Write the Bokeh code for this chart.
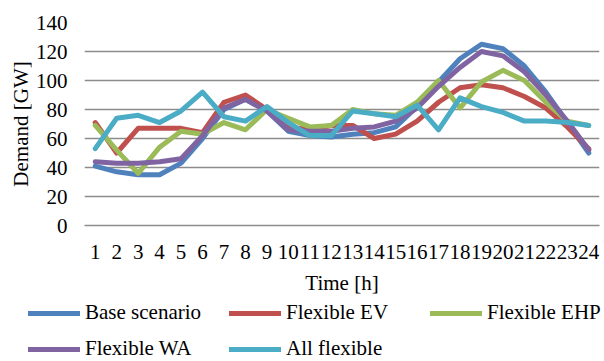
from bokeh.plotting import figure
from bokeh.models import Range1d, FactorRange, FixedTicker, Legend, LegendItem
from bokeh.layouts import column
from bokeh.embed import file_html
from bokeh.resources import INLINE

# Hourly demand (GW) for each flexibility scenario
hours = [str(h) for h in range(1, 25)]
base_scenario = [41, 37, 35, 35, 43, 60, 80, 87, 79, 65, 62, 61,
                 63, 64, 68, 82, 99, 115, 125, 122, 110, 92, 71, 50]
flexible_ev = [71, 50, 67, 67, 67, 64, 85, 90, 80, 68, 66, 69,
               69, 60, 63, 72, 85, 95, 97, 95, 89, 81, 68, 53]
flexible_ehp = [69, 52, 36, 54, 65, 63, 71, 66, 80, 74, 68, 69,
                80, 77, 76, 85, 100, 81, 99, 107, 100, 85, 72, 69]
flexible_wa = [44, 43, 43, 44, 46, 62, 81, 87, 79, 66, 65, 65,
               67, 68, 72, 81, 96, 109, 120, 117, 106, 90, 72, 52]
all_flexible = [53, 74, 76, 71, 79, 92, 75, 72, 82, 71, 62, 62,
                79, 77, 75, 83, 66, 88, 82, 78, 72, 72, 71, 69]

series_names = ["Base scenario", "Flexible EV", "Flexible EHP",
                "Flexible WA", "All flexible"]
series_values = [base_scenario, flexible_ev, flexible_ehp,
                 flexible_wa, all_flexible]
series_colors = ["#4F81BD", "#C0504D", "#9BBB59", "#8064A2", "#4BACC6"]
y_ticks = [0, 20, 40, 60, 80, 100, 120, 140]

FONT = "Liberation Serif"
FSIZE = "21px"
GRID = "#8c8c8c"
LINE_W = 5

# ---- main chart ----
p = figure(width=604, height=297,
           x_range=FactorRange(factors=hours, range_padding=0),
           y_range=Range1d(0, 140),
           output_backend="svg", toolbar_location=None,
           min_border_left=84, min_border_right=5,
           min_border_top=22, min_border_bottom=71)
p.outline_line_color = None

for vals, col in zip(series_values, series_colors):
    p.line(hours, vals, line_color=col, line_width=LINE_W,
           line_join="round", line_cap="round")

# y axis
p.yaxis.ticker = FixedTicker(ticks=y_ticks)
p.yaxis.axis_line_color = None
p.yaxis.major_tick_line_color = None
p.yaxis.minor_tick_line_color = None
p.yaxis.major_tick_out = 0
p.yaxis.major_tick_in = 0
p.yaxis.major_label_standoff = 17
p.yaxis.major_label_text_font = FONT
p.yaxis.major_label_text_font_size = FSIZE
p.yaxis.major_label_text_color = "black"
p.yaxis.axis_label = "Demand [GW]"
p.yaxis.axis_label_text_font = FONT
p.yaxis.axis_label_text_font_size = FSIZE
p.yaxis.axis_label_text_font_style = "normal"
p.yaxis.axis_label_text_color = "black"
p.yaxis.axis_label_standoff = 0

# x axis
p.xaxis.axis_line_color = GRID
p.xaxis.axis_line_width = 1.5
p.xaxis.major_tick_line_color = None
p.xaxis.major_tick_out = 0
p.xaxis.major_tick_in = 0
p.xaxis.major_label_standoff = 19
p.xaxis.major_label_text_font = FONT
p.xaxis.major_label_text_font_size = FSIZE
p.xaxis.major_label_text_color = "black"
p.xaxis.axis_label = "Time [h]"
p.xaxis.axis_label_text_font = FONT
p.xaxis.axis_label_text_font_size = FSIZE
p.xaxis.axis_label_text_font_style = "normal"
p.xaxis.axis_label_text_color = "black"
p.xaxis.axis_label_standoff = 9

p.xgrid.grid_line_color = None
p.ygrid.grid_line_color = GRID
p.ygrid.grid_line_width = 1.5

# ---- legend strip (full width, below the chart) ----
lg = figure(width=604, height=64, output_backend="svg",
            toolbar_location=None, min_border=0,
            x_range=Range1d(0, 1), y_range=Range1d(0, 1))
lg.outline_line_color = None
lg.axis.visible = False
lg.grid.visible = False

# keep the strip's frame independent of the chart's frame
if "frame_align" in lg.properties():
    lg.frame_align = False
    p.frame_align = False

items = []
for name, col in zip(series_names, series_colors):
    # legend-only renderer, kept outside the strip's visible range
    r = lg.line(x=[0, 1], y=[-5, -5], line_color=col, line_width=LINE_W,
                line_cap="round")
    items.append(LegendItem(label=name, renderers=[r]))

legend = Legend(items=items, location=(28, 0),
                orientation="horizontal", ncols=3,
                glyph_width=52, glyph_height=20, label_height=20,
                label_width=133, label_standoff=5, spacing=11,
                padding=0, margin=0,
                border_line_color=None, background_fill_alpha=0,
                label_text_font=FONT, label_text_font_size=FSIZE,
                label_text_color="black")
lg.add_layout(legend, "center")

open("out.html", "w").write(file_html(column(p, lg, spacing=0), INLINE))
